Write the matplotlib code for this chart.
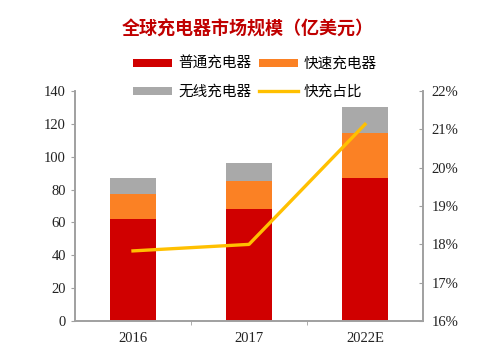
import matplotlib
matplotlib.use("Agg")
import matplotlib.pyplot as plt
import numpy as np
from matplotlib.ticker import FixedLocator, PercentFormatter

plt.rcParams['font.family'] = ['Noto Sans CJK SC', 'DejaVu Sans']

# data
years = ['2016', '2017', '2022E']
normal = [62, 68, 87]        # 普通充电器
fast = [15.5, 17.5, 27.5]    # 快速充电器
wireless = [9.3, 10.8, 15.8] # 无线充电器
fast_share = [17.83, 18.0, 21.13]  # 快充占比 (%)

c_red = '#D00000'
c_orange = '#FB8124'
c_gray = '#A9A9A9'
c_yellow = '#FFC000'
c_spine = '#A0A0A0'
num_font = 'Liberation Serif'

fig = plt.figure(figsize=(5, 3.54), dpi=100)
ax = fig.add_axes([0.15, 0.093, 0.696, 0.65])
ax2 = ax.twinx()

x = np.arange(len(years))
w = 0.4
b1 = ax.bar(x, normal, w, color=c_red, label='普通充电器')
b2 = ax.bar(x, fast, w, bottom=normal, color=c_orange, label='快速充电器')
bottom2 = [a + b for a, b in zip(normal, fast)]
b3 = ax.bar(x, wireless, w, bottom=bottom2, color=c_gray, label='无线充电器')
ln, = ax2.plot(x, fast_share, color=c_yellow, lw=2.4, label='快充占比')

ax.set_xlim(-0.5, 2.5)
ax.set_ylim(0, 140)
ax.set_yticks(range(0, 141, 20))
ax2.set_ylim(16, 22)
ax2.set_yticks(range(16, 23))
ax2.yaxis.set_major_formatter(PercentFormatter(decimals=0))

ax.set_xticks(x)
ax.set_xticklabels(years)
ax.xaxis.set_minor_locator(FixedLocator([0.5, 1.5]))
ax.tick_params(axis='x', which='major', length=0, pad=8)
ax.tick_params(axis='x', which='minor', length=3, color=c_spine, direction='out')
ax.tick_params(axis='y', length=3, color=c_spine, direction='out')
ax2.tick_params(axis='y', length=3, color=c_spine, direction='in', pad=6)

for a in (ax, ax2):
    a.spines['top'].set_visible(False)
    for s in ('left', 'right', 'bottom'):
        a.spines[s].set_color(c_spine)
        a.spines[s].set_linewidth(1.2)
    for lab in a.get_xticklabels() + a.get_yticklabels():
        lab.set_fontfamily(num_font)
        lab.set_fontsize(10.5)
        lab.set_color('#222222')

fig.text(0.496, 0.918, '全球充电器市场规模（亿美元）', ha='center', va='center',
         fontsize=13, fontweight='bold', color='#C00000')

# column-major fill, so order gives row 1: 普通/快速, row 2: 无线/快充
leg = fig.legend([b1, b3, b2, ln], ['普通充电器', '无线充电器', '快速充电器', '快充占比'],
                 ncol=2, loc='center', bbox_to_anchor=(0.51, 0.78), frameon=False,
                 fontsize=10.5, handlelength=2.7, handleheight=0.45, columnspacing=0.5,
                 handletextpad=0.4, labelspacing=0.95)

fig.savefig('out.png', dpi=100)
